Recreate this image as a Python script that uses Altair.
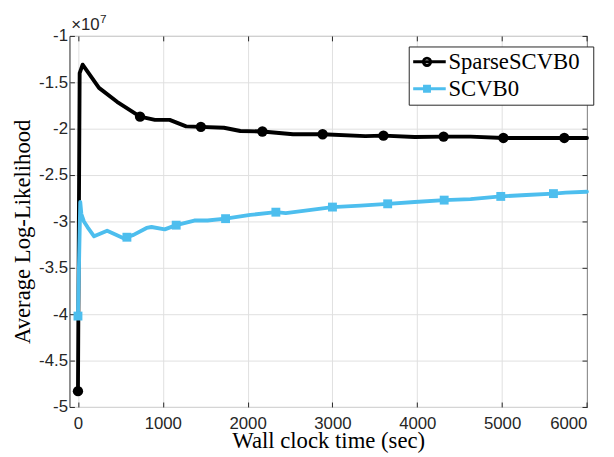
import altair as alt
import pandas as pd

# ---------------- data (values in units of 1e7) ----------------
SERIES = ["SparseSCVB0", "SCVB0"]
COLORS = ["#000000", "#4DBEEE"]

sparse_t = [0, 20, 55, 248, 461, 732, 907, 1081, 1275, 1449, 1721, 1914, 2174,
            2535, 2884, 3387, 3601, 3969, 4310, 4628, 5015, 5370, 5733, 6000]
sparse_ll = [-4.83, -1.40, -1.31, -1.56, -1.71, -1.87, -1.905, -1.905, -1.975,
             -1.98, -1.99, -2.025, -2.03, -2.06, -2.06, -2.08, -2.075, -2.09,
             -2.085, -2.085, -2.10, -2.10, -2.10, -2.10]
sparse_mark = [1, 0, 0, 0, 0, 1, 0, 0, 0, 1, 0, 0, 1,
               0, 1, 0, 1, 0, 1, 0, 1, 0, 1, 0]

scvb_t = [0, 27, 40, 70, 112, 190, 344, 538, 577, 655, 809, 867, 1023, 1158,
          1372, 1527, 1740, 2031, 2333, 2450, 3000, 3330, 3651, 3969, 4317,
          4628, 4984, 5286, 5605, 5750, 6000]
scvb_ll = [-4.02, -2.79, -2.92, -3.00, -3.06, -3.16, -3.10, -3.18, -3.17, -3.145,
           -3.07, -3.06, -3.085, -3.04, -2.99, -2.99, -2.97, -2.93, -2.90, -2.91,
           -2.845, -2.83, -2.81, -2.79, -2.77, -2.76, -2.73, -2.715, -2.70, -2.69,
           -2.68]
scvb_mark = [1, 0, 0, 0, 0, 0, 0, 0, 1, 0, 0, 0, 0, 1,
             0, 0, 1, 0, 1, 0, 1, 0, 1, 0, 1,
             0, 1, 0, 1, 0, 0]

X_TICKS = [0, 1000, 2000, 3000, 4000, 5000, 6000]
Y_TICKS = [-5, -4.5, -4, -3.5, -3, -2.5, -2, -1.5, -1]
X_DOMAIN = [-100, 6000]
Y_DOMAIN = [-5, -1]

rows = []
for t, v, m in zip(sparse_t, sparse_ll, sparse_mark):
    rows.append({"t": t, "ll": v, "series": SERIES[0], "marker": m})
for t, v, m in zip(scvb_t, scvb_ll, scvb_mark):
    rows.append({"t": t, "ll": v, "series": SERIES[1], "marker": m})
df = pd.DataFrame(rows)
mk = df[df["marker"] == 1]

# ---------------- style ----------------
FRAME = "#262626"
GRID = "#dfdfdf"
SANS = "Liberation Sans"
SERIF = "Liberation Serif"

# legend symbols: line + marker (unit = sqrt(size)/2)
CIRCLE_SYM = "M-1.1,0L2.2,0M0.67,0A0.37,0.37,0,1,1,-0.07,0A0.37,0.37,0,1,1,0.67,0Z"
SQUARE_SYM = "M-1.1,0L2.2,0M0.05,-0.25L0.55,-0.25L0.55,0.25L0.05,0.25ZM0.05,0L0.55,0"

xs = alt.Scale(domain=X_DOMAIN, nice=False, zero=False)
ys = alt.Scale(domain=Y_DOMAIN, nice=False, zero=False)

common = dict(offset=-5, tickSize=5, tickColor=FRAME, tickWidth=1, domain=False)

x_bottom = alt.Axis(orient="bottom", values=X_TICKS, format="d", grid=True,
                    gridColor=GRID, gridWidth=1, labelFont=SANS, labelFontSize=17,
                    labelColor=FRAME, labelPadding=9,
                    title="Wall clock time (sec)", titleFont=SERIF,
                    titleFontSize=23, titleFontWeight="normal", titleColor="black",
                    titleBaseline="alphabetic", titleY=46.4, **common)
y_left = alt.Axis(orient="left", values=Y_TICKS, labelExpr="'' + datum.value",
                  grid=True, gridColor=GRID, gridWidth=1, labelFont=SANS,
                  labelFontSize=17, labelColor=FRAME, labelPadding=2,
                  title="Average Log-Likelihood", titleFont=SERIF, titleFontSize=23,
                  titleFontWeight="normal", titleColor="black",
                  titleBaseline="alphabetic", titleX=-45.3, titleY=198, **common)
x_top = alt.Axis(orient="top", values=X_TICKS, labels=False, grid=False,
                 title=None, **common)
y_right = alt.Axis(orient="right", values=Y_TICKS, labels=False, grid=False,
                   title=None, **common)


def series_line(i, xaxis, yaxis):
    return alt.Chart(df).transform_filter(
        alt.datum.series == SERIES[i]
    ).mark_line(strokeWidth=3.9, strokeJoin="round", strokeCap="round",
                color=COLORS[i]).encode(
        x=alt.X("t:Q", scale=xs, axis=xaxis),
        y=alt.Y("ll:Q", scale=ys, axis=yaxis),
        order="t:Q",
    )


black_line = series_line(0, x_bottom, y_left)
blue_line = series_line(1, None, None)

black_pts = alt.Chart(mk).transform_filter(
    alt.datum.series == SERIES[0]
).mark_point(shape="circle", filled=True, size=110, color=COLORS[0],
             opacity=1).encode(
    x=alt.X("t:Q", scale=xs, axis=x_top),
    y=alt.Y("ll:Q", scale=ys, axis=y_right),
)

blue_pts = alt.Chart(mk).transform_filter(
    alt.datum.series == SERIES[1]
).mark_point(shape="square", filled=True, size=81, color=COLORS[1],
             opacity=1).encode(
    x=alt.X("t:Q", scale=xs, axis=None),
    y=alt.Y("ll:Q", scale=ys, axis=None),
)

LEG = alt.Legend(title=".", titleOrient="right", titleColor="white",
                 titleFontSize=12, titlePadding=6,
                 orient="none", legendX=343.8, legendY=10.7,
                 padding=4, rowPadding=3.3, fillColor="white",
                 strokeColor=FRAME, symbolSize=400, symbolStrokeWidth=3,
                 symbolOpacity=1, labelFont=SERIF, labelFontSize=23,
                 labelColor="black", labelOffset=13.2, labelLimit=400)

legend_layer = alt.Chart(mk).mark_point(filled=False, opacity=0).encode(
    x=alt.X("t:Q", scale=xs, axis=None),
    y=alt.Y("ll:Q", scale=ys, axis=None),
    color=alt.Color("series:N", scale=alt.Scale(domain=SERIES, range=COLORS),
                    legend=LEG),
    shape=alt.Shape("series:N",
                    scale=alt.Scale(domain=SERIES, range=[CIRCLE_SYM, SQUARE_SYM]),
                    legend=LEG),
)

exp_base = alt.Chart(pd.DataFrame({"s": ["\u00d710"]})).mark_text(
    font=SANS, fontSize=17, color=FRAME, align="left", baseline="alphabetic"
).encode(x=alt.value(1.7), y=alt.value(-6), text="s:N")

exp_pow = alt.Chart(pd.DataFrame({"s": ["7"]})).mark_text(
    font=SANS, fontSize=12, color=FRAME, align="left", baseline="alphabetic"
).encode(x=alt.value(31), y=alt.value(-13), text="s:N")

chart = alt.layer(black_line, blue_line, black_pts, blue_pts, legend_layer,
                  exp_base, exp_pow).properties(
    width=524.4,
    height=376,
    autosize=alt.AutoSizeParams(type="none"),
    padding={"left": 62.3, "top": 25.3, "right": 19.3, "bottom": 47.7},
    background="white",
).configure_view(stroke=FRAME, strokeWidth=1)

chart.save("out.html", embed_options={"renderer": "svg", "actions": False})
